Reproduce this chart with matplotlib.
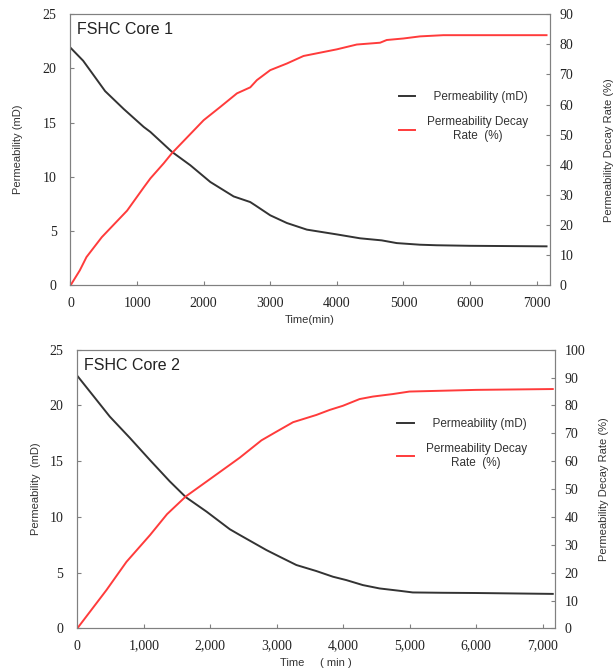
import numpy as np
import matplotlib.pyplot as plt

# Core 1 data
t1 = [0, 190, 320, 520, 800, 1100, 1200, 1525, 1800, 2100, 2450, 2700, 2775, 3000, 3250,
      3550, 4000, 4350, 4675, 4900, 5250, 5500, 6000, 7150]
perm1 = [21.9, 20.7, 19.6, 17.9, 16.25, 14.6, 14.14, 12.3, 11.07, 9.53, 8.2, 7.68, 7.38, 6.46, 5.75,
         5.14, 4.7, 4.34, 4.15, 3.9, 3.75, 3.7, 3.65, 3.6]
t1r = [0, 140, 240, 470, 850, 1100, 1200, 1400, 1525, 2000, 2250, 2500, 2700, 2800, 3000,
       3250, 3500, 3750, 4000, 4300, 4650, 4750, 5000, 5250, 5600, 7150]
decay1 = [0, 5, 9.4, 16, 24.8, 32.5, 35.5, 40.5, 43.9, 54.8, 59.2, 63.7, 65.7, 68.1, 71.4,
          73.6, 76.1, 77.2, 78.3, 79.9, 80.5, 81.4, 81.9, 82.6, 83, 83]

# Core 2 data
t2 = [0, 250, 490, 790, 1094, 1390, 1634, 1944, 2294, 2445, 2845, 3045, 3295, 3595, 3845,
      4045, 4295, 4545, 4845, 5045, 5500, 6000, 7150]
perm2 = [22.67, 20.8, 19.0, 17.1, 15.1, 13.2, 11.77, 10.48, 8.9, 8.38, 7.03, 6.43, 5.69, 5.15, 4.64,
         4.34, 3.89, 3.59, 3.38, 3.23, 3.2, 3.18, 3.1]
t2r = [0, 440, 740, 1094, 1350, 1634, 1944, 2294, 2445, 2770, 2995, 3245, 3595, 3795, 3995,
       4245, 4445, 4745, 4995, 5500, 6000, 7150]
decay2 = [0, 13.8, 23.9, 33.5, 41.0, 47.4, 52.7, 58.7, 61.3, 67.5, 70.6, 74.0, 76.6, 78.4, 79.9,
          82.3, 83.2, 84.1, 85.0, 85.3, 85.6, 85.9]

serif = 'Liberation Serif'
sans = 'Liberation Sans'
black = '#333333'
red = '#ff3b3b'
spine_c = '#808080'

fig = plt.figure(figsize=(6.13, 6.70), dpi=100)


def draw(rect, t, perm, tr, decay, xmax, ymax2, title, xlabel, ylabel, comma, leg_xy,
         lpad, rpad):
    ax = fig.add_axes(rect)
    ax2 = ax.twinx()
    l1, = ax.plot(t, perm, color=black, lw=1.4)
    l2, = ax2.plot(tr, decay, color=red, lw=1.4)
    ax.set_xlim(0, xmax)
    ax.set_ylim(0, 25)
    ax2.set_ylim(0, ymax2)
    ax.set_xticks(range(0, 7001, 1000))
    if comma:
        ax.set_xticklabels([f'{v:,}' for v in range(0, 7001, 1000)])
    ax.set_yticks(range(0, 26, 5))
    ax2.set_yticks(range(0, ymax2 + 1, 10))
    for a in (ax, ax2):
        for s in a.spines.values():
            s.set_color(spine_c)
        a.tick_params(direction='in', length=3, color=spine_c, labelsize=10, labelcolor='#222222')
        for lab in a.get_xticklabels() + a.get_yticklabels():
            lab.set_fontfamily(serif)
    ax.tick_params(axis='y', pad=10)
    ax.tick_params(axis='x', pad=8)
    ax2.tick_params(axis='y', pad=7)
    ax.set_xlabel(xlabel, fontsize=8, family=sans, color='#333333', labelpad=4)
    ax.set_ylabel(ylabel, fontsize=8, family=sans, color='#333333', labelpad=lpad)
    ax2.set_ylabel('Permeability Decay Rate (%)', fontsize=8, family=sans, color='#333333',
                   labelpad=rpad)
    ax.text(0.014, 0.97, title, transform=ax.transAxes, ha='left', va='top',
            fontsize=11.5, family=sans, color='#222222')
    ax.legend([l1, l2], ['  Permeability (mD)', 'Permeability Decay\nRate  (%)'],
              loc='upper left', bbox_to_anchor=leg_xy, frameon=False,
              borderpad=0, borderaxespad=0,
              prop={'family': sans, 'size': 8.5}, handlelength=1.4, labelspacing=1.1,
              handletextpad=1.0)
    for txt in ax.get_legend().get_texts():
        txt.set_multialignment('center')
        txt.set_color('#333333')


draw([0.115, 0.574, 0.782, 0.405], t1, perm1, t1r, decay1, 7200, 90,
     'FSHC Core 1', 'Time(min)', 'Permeability (mD)', False, (0.685, 0.715), 14.5, 22)
draw([0.126, 0.062, 0.779, 0.416], t2, perm2, t2r, decay2, 7180, 100,
     'FSHC Core 2', 'Time     ( min )', 'Permeability  (mD)', True, (0.67, 0.755), 6, 10)

fig.savefig('out.png', dpi=100)
